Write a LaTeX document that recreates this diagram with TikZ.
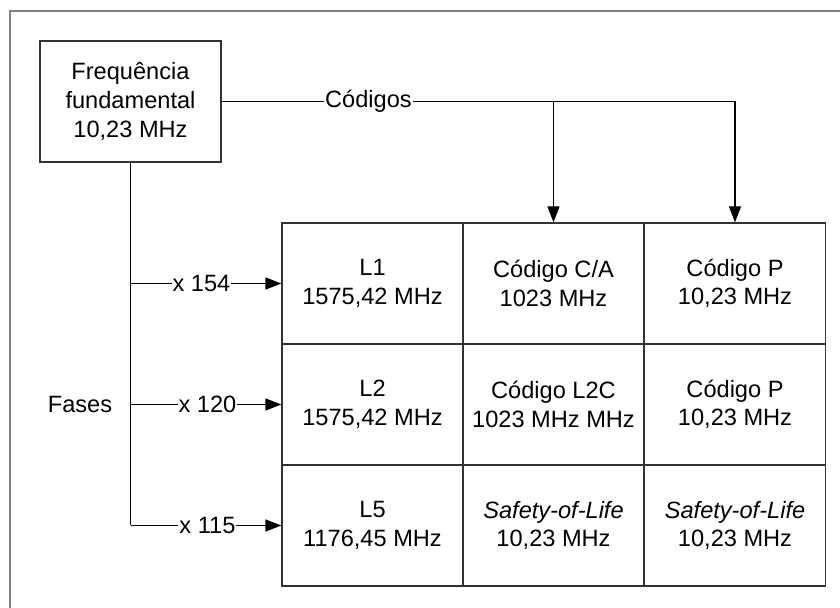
\documentclass[tikz,border=0pt]{standalone}
\usepackage{fontspec}
\setmainfont{Liberation Sans}
\usetikzlibrary{arrows.meta}
\definecolor{framegray}{RGB}{128,128,128}
\definecolor{linegray}{RGB}{50,50,50}
\begin{document}
\begin{tikzpicture}[x=0.5pt,y=-0.5pt,
  every node/.style={font=\fontsize{11.8}{14.3}\selectfont},
  boxnode/.style={draw=linegray, line width=0.6pt, minimum width=90.5pt, minimum height=60.5pt, inner sep=0pt, align=center},
  cellnode/.style={draw=linegray, line width=0.6pt, minimum width=90.5pt, minimum height=60.5pt, inner sep=0pt, align=center},
  conn/.style={line width=0.6pt, black},
  arr/.style={conn, -{Triangle[length=8pt,width=6pt]}},
  lbl/.style={fill=white, inner sep=0.5pt}]
\useasboundingbox (0,0) rectangle (840,608);
\draw[framegray, line width=0.8pt] (10,608) -- (10,11) -- (840,11);
\node[boxnode] (top) at (130.5,101.5) {Frequência\\fundamental\\10,23 MHz};
\node[cellnode] (c11) at (372.5,283.5) {L1\\1575,42 MHz};
\node[cellnode] (c12) at (553.5,283.5) {Código C/A\\1023 MHz};
\node[cellnode] (c13) at (735,283.5) {Código P\\10,23 MHz};
\node[cellnode] (c21) at (372.5,404.5) {L2\\1575,42 MHz};
\node[cellnode] (c22) at (553.5,404.5) {Código L2C\\1023 MHz MHz};
\node[cellnode] (c23) at (735,404.5) {Código P\\10,23 MHz};
\node[cellnode] (c31) at (372.5,525.5) {L5\\1176,45 MHz};
\node[cellnode] (c32) at (553.5,525.5) {\textit{Safety-of-Life}\\10,23 MHz};
\node[cellnode] (c33) at (735,525.5) {\textit{Safety-of-Life}\\10,23 MHz};
\node (fases) at (80,404) {Fases};
\coordinate (k) at (c13.north |- top.east);
\coordinate (b1) at (top.south |- c11.west);
\coordinate (b2) at (top.south |- c21.west);
\coordinate (b3) at (top.south |- c31.west);
\draw[conn] (top.east) -- node[lbl, pos=0.286] (cod) {Códigos} (k);
\draw[arr] (k) -- (c13.north);
\draw[arr] (c12.north |- k) -- (c12.north);
\draw[conn] (top.south) -- (b3);
\draw[arr] (b1) -- node[lbl, pos=0.47] (m1) {x 154} (c11.west);
\draw[arr] (b2) -- node[lbl, pos=0.51] (m2) {x 120} (c21.west);
\draw[arr] (b3) -- node[lbl, pos=0.51] (m3) {x 115} (c31.west);
\end{tikzpicture}
\end{document}
